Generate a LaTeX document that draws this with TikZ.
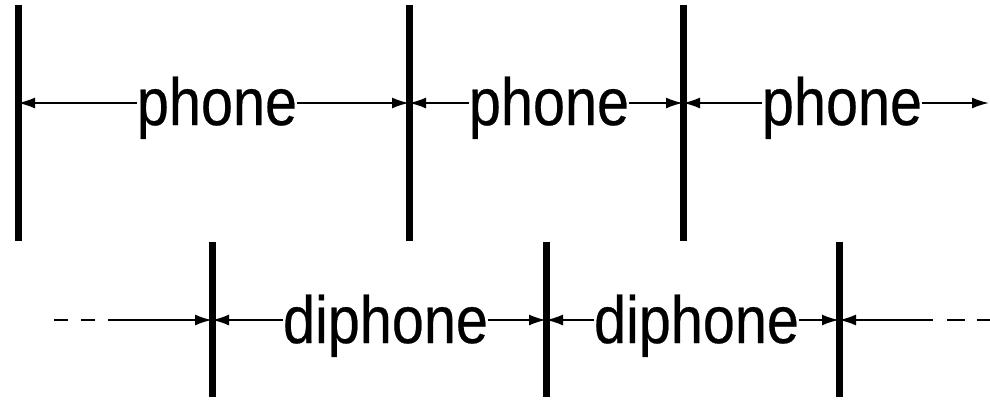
\documentclass[tikz,border=0pt]{standalone}
\usepackage{fontspec}
\setmainfont{Liberation Sans}
\newfontfamily\lblfont[FakeBold=0.4]{Liberation Sans}
\usetikzlibrary{arrows.meta}
\tikzset{
  bar/.style={line width=7pt},
  arr/.style={line width=2pt,-{Latex[length=17pt,width=11pt]}},
  plain/.style={line width=2pt},
  lbl/.style={inner sep=0pt,anchor=base,font=\lblfont\fontsize{57.6}{60}\selectfont}
}
\newcommand{\stretchtxt}[1]{\scalebox{1}[1.16]{#1}}
\begin{document}
\begin{tikzpicture}[x=1pt,y=-1pt]
\useasboundingbox (0,0) rectangle (990,400);
% coordinates for bars
\coordinate (t1a) at (18,5);   \coordinate (t1b) at (18,241);
\coordinate (t2a) at (409,5);  \coordinate (t2b) at (409,241);
\coordinate (t3a) at (683,5);  \coordinate (t3b) at (683,241);
\coordinate (b1a) at (212,242); \coordinate (b1b) at (212,397);
\coordinate (b2a) at (546,242); \coordinate (b2b) at (546,397);
\coordinate (b3a) at (839,242); \coordinate (b3b) at (839,397);
\coordinate (t1m) at (18,103);
\coordinate (t2m) at (409,103);
\coordinate (t3m) at (683,103);
\coordinate (tend) at (990,103);
\coordinate (b1m) at (212,320);
\coordinate (b2m) at (546,320);
\coordinate (b3m) at (839,320);
\coordinate (ls) at (108,320);
\coordinate (ld) at (54,320);
\coordinate (rs) at (933,320);
\coordinate (rd) at (990,320);
% labels
\node[lbl] (p1) at (217,125) {\stretchtxt{phone}};
\node[lbl] (p2) at (549,125) {\stretchtxt{phone}};
\node[lbl] (p3) at (842,125) {\stretchtxt{phone}};
\node[lbl] (d1) at (385.5,343) {\stretchtxt{diphone}};
\node[lbl] (d2) at (696.5,343) {\stretchtxt{diphone}};
% top arrows
\draw[arr] (p1.west |- t1m) -- (t1m);
\draw[arr] (p1.east |- t1m) -- (t2m);
\draw[arr] (p2.west |- t1m) -- (t2m);
\draw[arr] (p2.east |- t1m) -- (t3m);
\draw[arr] (p3.west |- t1m) -- (t3m);
\draw[arr] (p3.east |- t1m) -- ([xshift=-1pt]tend);
% bottom arrows
\draw[plain,dash pattern=on 14pt off 13pt] (ld) -- (ls);
\draw[arr] (ls) -- (b1m);
\draw[arr] (d1.west |- b1m) -- (b1m);
\draw[arr] (d1.east |- b1m) -- (b2m);
\draw[arr] (d2.west |- b1m) -- (b2m);
\draw[arr] (d2.east |- b1m) -- (b3m);
\draw[arr] (rs) -- (b3m);
\draw[plain,dash pattern=on 0pt off 14pt on 18pt off 12pt on 13pt off 20pt] (rs) -- (rd);
% bars
\draw[bar] (t1a) -- (t1b);
\draw[bar] (t2a) -- (t2b);
\draw[bar] (t3a) -- (t3b);
\draw[bar] (b1a) -- (b1b);
\draw[bar] (b2a) -- (b2b);
\draw[bar] (b3a) -- (b3b);
\end{tikzpicture}
\end{document}
